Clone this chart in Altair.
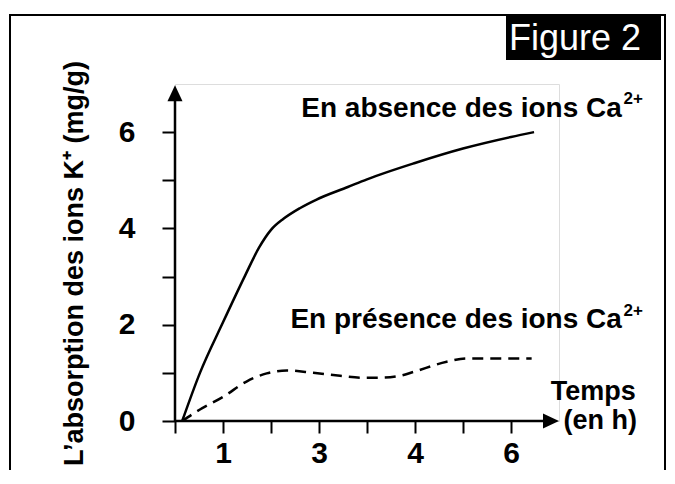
import json
import altair as alt
import pandas as pd

# ---- data ----
solid_x = [0.15, 0.52, 1.0, 1.46, 1.75, 2.0, 2.26, 2.60, 2.95, 3.6, 4.0, 5.0, 6.0, 7.0, 7.48]
solid_y = [0.0, 1.0, 2.05, 3.02, 3.6, 3.97, 4.2, 4.42, 4.6, 4.86, 5.02, 5.36, 5.66, 5.90, 6.0]

dashed_x = [0.15, 0.52, 1.0, 1.49, 1.91, 2.33, 2.88, 3.44, 3.9, 4.27, 4.69, 4.97, 5.66, 6.08, 6.8, 7.43]
dashed_y = [0.0, 0.24, 0.50, 0.82, 0.99, 1.05, 1.00, 0.94, 0.90, 0.90, 0.94, 1.02, 1.23, 1.30, 1.30, 1.30]

x_tick_values = [0, 1, 2, 3, 4, 5, 6, 7]
x_tick_labels = ["", "1", "", "3", "", "4", "", "6"]
y_tick_values = [0, 1, 2, 3, 4, 5, 6]
y_tick_labels = ["0", "", "2", "", "4", "", "6"]

y_title = "L\u2019absorption des ions K\u207a (mg/g)"
label_absence = "En absence des ions Ca"
label_presence = "En présence des ions Ca"
superscript = "2+"
x_title_1 = "Temps"
x_title_2 = "(en h)"
figure_label = "Figure 2"

# annotation anchor points (data units)
main_labels = pd.DataFrame({"x": [9.31, 9.31], "y": [6.32, 1.93],
                            "text": [label_absence, label_presence]})
sup_labels = pd.DataFrame({"x": [9.345, 9.345], "y": [6.85, 2.46],
                           "text": [superscript, superscript]})
xtitle_labels = pd.DataFrame({"x": [9.60, 9.625], "y": [0.43, -0.16],
                              "text": [x_title_1, x_title_2]})
axis_lines = pd.DataFrame({"x": [0, 0], "x2": [7.67, 0], "y": [0, 0], "y2": [0, 6.65]})
arrow_heads = pd.DataFrame({"x": [7.833, 0], "y": [0, 6.81],
                            "shape": ["M1,0L-1,-0.94L-1,0.94Z", "M0,-1L-0.94,1L0.94,1Z"]})

solid_df = pd.DataFrame({"x": solid_x, "y": solid_y})
dashed_df = pd.DataFrame({"x": dashed_x, "y": dashed_y})

FONT = "Liberation Sans"

x_enc = alt.X("x:Q", scale=alt.Scale(domain=[0, 8], nice=False, zero=False),
              axis=alt.Axis(values=x_tick_values,
                            labelExpr=json.dumps(x_tick_labels) + "[datum.value]",
                            domain=False, grid=False, tickSize=12, tickWidth=2,
                            tickColor="black", labelFontSize=30, labelFont=FONT,
                            labelFontWeight="bold", labelColor="black", labelPadding=5,
                            labelFlush=False, labelOverlap=False, title=None))
y_enc = alt.Y("y:Q", scale=alt.Scale(domain=[0, 7], nice=False, zero=False),
              axis=alt.Axis(values=y_tick_values,
                            labelExpr=json.dumps(y_tick_labels) + "[datum.value]",
                            domain=False, grid=False, tickSize=13, tickWidth=2,
                            tickColor="black", labelFontSize=30, labelFont=FONT,
                            labelFontWeight="bold", labelColor="black", labelPadding=27,
                            labelBaseline="middle", labelFlush=False, labelOverlap=False,
                            title=y_title, titleFont=FONT, titleFontSize=27,
                            titleFontWeight="bold", titleColor="black", titleAngle=270,
                            titleX=-93, titleY=179, titleAlign="center",
                            titleBaseline="alphabetic"))

one = pd.DataFrame({"a": [0]})

frame = alt.Chart(one).mark_rect(fillOpacity=0, stroke="black", strokeWidth=2).encode(
    x=alt.value(-165), x2=alt.value(490), y=alt.value(-69), y2=alt.value(420))

badge = alt.Chart(one).mark_rect(color="black").encode(
    x=alt.value(331), x2=alt.value(486), y=alt.value(-68), y2=alt.value(-24))

badge_text = alt.Chart(one).mark_text(color="white", font=FONT, fontSize=36,
                                      align="left", baseline="alphabetic").encode(
    x=alt.value(334), y=alt.value(-34), text=alt.value(figure_label))

axes = alt.Chart(axis_lines).mark_rule(color="black", strokeWidth=2.5).encode(
    x=x_enc, x2="x2:Q", y=y_enc, y2="y2:Q")

arrows = alt.Chart(arrow_heads).mark_point(filled=True, color="black", size=256, opacity=1).encode(
    x=x_enc, y=y_enc, shape=alt.Shape("shape:N", scale=None))

solid = alt.Chart(solid_df).mark_line(color="black", strokeWidth=2.5, interpolate="monotone").encode(
    x=x_enc, y=y_enc)
dashed = alt.Chart(dashed_df).mark_line(color="black", strokeWidth=2.5, interpolate="monotone",
                                        strokeDash=[11, 7]).encode(x=x_enc, y=y_enc)

main_txt = alt.Chart(main_labels).mark_text(font=FONT, fontSize=28, fontWeight="bold",
                                            color="black", align="right",
                                            baseline="alphabetic").encode(
    x=x_enc, y=y_enc, text="text:N")
sup_txt = alt.Chart(sup_labels).mark_text(font=FONT, fontSize=17, fontWeight="bold",
                                          color="black", align="left",
                                          baseline="top").encode(
    x=x_enc, y=y_enc, text="text:N")
xt_txt = alt.Chart(xtitle_labels).mark_text(font=FONT, fontSize=27, fontWeight="bold",
                                            color="black", align="right",
                                            baseline="alphabetic").encode(
    x=x_enc, y=y_enc, text="text:N")

chart = alt.layer(solid, dashed, axes, arrows, main_txt, sup_txt, xt_txt,
                  frame, badge, badge_text).properties(
    width=384, height=337,
    autosize=alt.AutoSizeParams(type="none"),
    padding={"left": 167, "top": 76, "right": 108, "bottom": 49},
).configure_view(strokeWidth=0, stroke="transparent").configure(font=FONT)

chart.save("out.html", embed_options={"renderer": "svg", "actions": False})
